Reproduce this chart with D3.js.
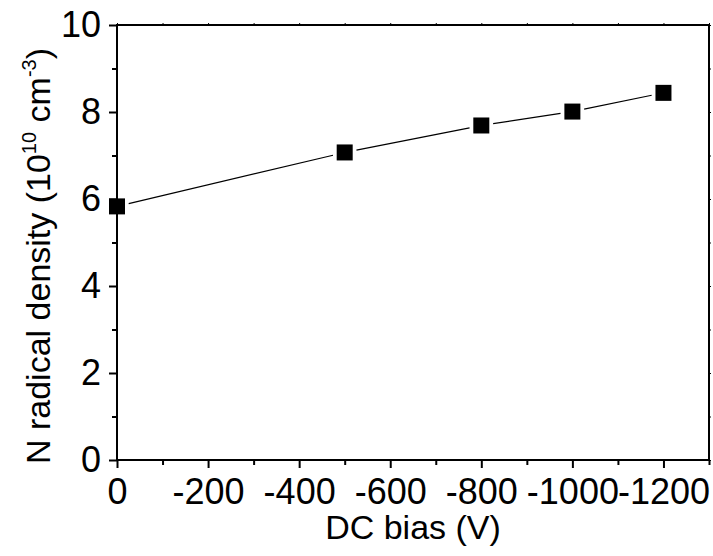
<!DOCTYPE html>
<html>
<head>
<meta charset="utf-8">
<script src="https://cdn.jsdelivr.net/npm/d3@7"></script>
<style>
  html, body { margin: 0; padding: 0; background: #fff; }
  svg { display: block; font-family: "Liberation Sans", Arial, sans-serif; }
</style>
</head>
<body>
<svg id="chart" width="713" height="556"></svg>
<script>
// DC bias applied (V) and measured N radical density (10^10 cm^-3)
const biasVoltage = [0, -500, -800, -1000, -1200];
const radicalDensity = [5.83, 7.07, 7.69, 8.01, 8.44];

const xMajorTicks = [0, -200, -400, -600, -800, -1000, -1200];
const xMinorTicks = [-100, -300, -500, -700, -900, -1100, -1300];
const yMajorTicks = [0, 2, 4, 6, 8, 10];
const yMinorTicks = [1, 3, 5, 7, 9];

const margin = { left: 117, right: 4, top: 25, bottom: 96 };
const W = 713, H = 556;
const svg = d3.select("#chart");
const FONT = "Liberation Sans, Arial, sans-serif";

const x = d3.scaleLinear().domain([0, -1300]).range([margin.left, W - margin.right]);
const y = d3.scaleLinear().domain([0, 10]).range([H - margin.bottom, margin.top]);

const x0 = x.range()[0], x1 = x.range()[1];
const y0 = y.range()[0], y1 = y.range()[1];

// frame
svg.append("rect")
  .attr("x", x0).attr("y", y1)
  .attr("width", x1 - x0).attr("height", y0 - y1)
  .attr("fill", "none").attr("stroke", "#000").attr("stroke-width", 2);

const tickStyle = g => {
  g.select(".domain").remove();
  g.selectAll("line").attr("stroke", "#000").attr("stroke-width", 2);
};

// bottom axis: major + minor ticks
svg.append("g")
  .attr("transform", `translate(0,${y0})`)
  .call(d3.axisBottom(x).tickValues(xMajorTicks).tickSize(8).tickPadding(10)
    .tickFormat(d => String(d)))
  .call(tickStyle)
  .call(g => g.selectAll("text").attr("fill", "#000").attr("font-size", 36)
    .attr("font-family", FONT));
svg.append("g")
  .attr("transform", `translate(0,${y0})`)
  .call(d3.axisBottom(x).tickValues(xMinorTicks).tickSize(5).tickFormat(""))
  .call(tickStyle);

// left axis: major + minor ticks
svg.append("g")
  .attr("transform", `translate(${x0},0)`)
  .call(d3.axisLeft(y).tickValues(yMajorTicks).tickSize(8).tickPadding(8)
    .tickFormat(d3.format("d")))
  .call(tickStyle)
  .call(g => g.selectAll("text").attr("fill", "#000").attr("font-size", 36)
    .attr("font-family", FONT));
svg.append("g")
  .attr("transform", `translate(${x0},0)`)
  .call(d3.axisLeft(y).tickValues(yMinorTicks).tickSize(5).tickFormat(""))
  .call(tickStyle);

// mirrored axes with tiny ticks
svg.append("g")
  .attr("transform", `translate(0,${y1})`)
  .call(d3.axisTop(x).tickValues(xMajorTicks.concat(xMinorTicks)).tickSize(2).tickFormat(""))
  .call(tickStyle)
  .call(g => g.selectAll("line").attr("stroke-width", 1));
svg.append("g")
  .attr("transform", `translate(${x1},0)`)
  .call(d3.axisRight(y).tickValues(yMajorTicks.concat(yMinorTicks)).tickSize(2).tickFormat(""))
  .call(tickStyle)
  .call(g => g.selectAll("line").attr("stroke-width", 1));

// connecting line segments, with a small gap around each marker
const pts = biasVoltage.map((v, i) => [x(v), y(radicalDensity[i])]);
const gap = 12;
const segs = d3.pairs(pts).map(([a, b]) => {
  const dx = b[0] - a[0], dy = b[1] - a[1];
  const L = Math.hypot(dx, dy);
  const ux = dx / L, uy = dy / L;
  return [a[0] + ux * gap, a[1] + uy * gap, b[0] - ux * gap, b[1] - uy * gap];
});
svg.append("g").selectAll("line").data(segs).join("line")
  .attr("x1", d => d[0]).attr("y1", d => d[1])
  .attr("x2", d => d[2]).attr("y2", d => d[3])
  .attr("stroke", "#000").attr("stroke-width", 1.2);

// square markers
const ms = 16;
svg.append("g").selectAll("rect").data(pts).join("rect")
  .attr("x", d => d[0] - ms / 2).attr("y", d => d[1] - ms / 2)
  .attr("width", ms).attr("height", ms)
  .attr("fill", "#000");

// axis titles
svg.append("text")
  .attr("x", (x0 + x1) / 2).attr("y", 539)
  .attr("text-anchor", "middle").attr("font-size", 34).attr("fill", "#000")
  .attr("font-family", FONT)
  .text("DC bias (V)");

const yt = svg.append("text")
  .attr("transform", `translate(50,256) rotate(-90)`)
  .attr("text-anchor", "middle").attr("font-size", 34).attr("fill", "#000")
  .attr("font-family", FONT);
yt.append("tspan").text("N radical density (10");
yt.append("tspan").attr("font-size", 20).attr("dy", -14).text("10");
yt.append("tspan").attr("dy", 14).text(" cm");
yt.append("tspan").attr("font-size", 20).attr("dy", -14).text("-3");
yt.append("tspan").attr("dy", 14).text(")");
</script>
</body>
</html>
